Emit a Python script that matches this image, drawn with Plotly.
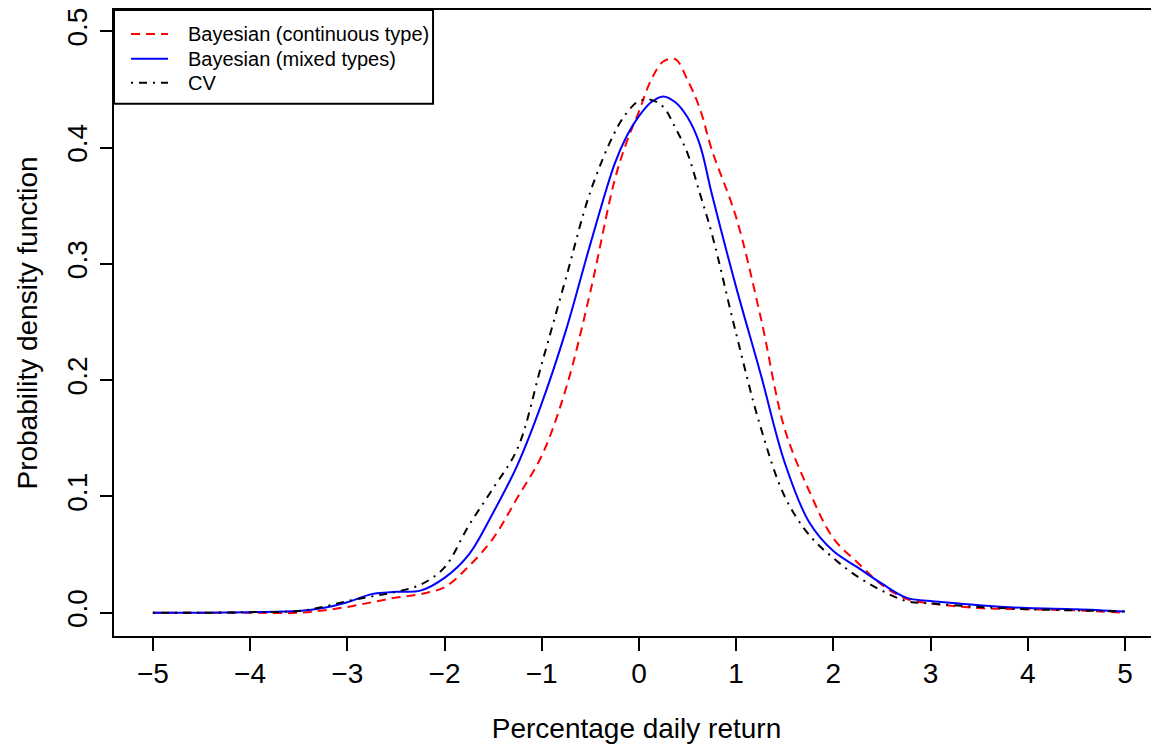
import plotly.graph_objects as go

# Data
x_grid = [-5, -4.5, -4, -3.5, -3.25, -3, -2.75, -2.5, -2.25, -2, -1.75, -1.5, -1.25, -1,
          -0.75, -0.5, -0.25, -0.125, 0, 0.125, 0.25, 0.375, 0.5, 0.625, 0.75, 1, 1.25,
          1.5, 1.75, 2, 2.25, 2.5, 2.75, 3, 3.5, 4, 4.5, 5]

bayes_continuous = [0.000, 0.000, 0.000, 0.000, 0.002, 0.005, 0.009, 0.013, 0.016, 0.022,
                    0.040, 0.064, 0.099, 0.135, 0.193, 0.276, 0.372, 0.405, 0.431, 0.458,
                    0.474, 0.476, 0.458, 0.434, 0.398, 0.340, 0.255,
                    0.158, 0.105, 0.064, 0.043, 0.024, 0.012, 0.008, 0.004, 0.003, 0.002, 0.000]

bayes_mixed = [0.000, 0.000, 0.0005, 0.0015, 0.004, 0.009, 0.016, 0.018, 0.019, 0.030,
               0.050, 0.086, 0.127, 0.180, 0.243, 0.317, 0.386, 0.410, 0.427, 0.439,
               0.444, 0.439, 0.426, 0.403, 0.360, 0.280, 0.206,
               0.129, 0.078, 0.053, 0.039, 0.025, 0.013, 0.010, 0.0065, 0.004, 0.003, 0.001]

cv = [0.000, 0.000, 0.0005, 0.0015, 0.005, 0.010, 0.014, 0.018, 0.024, 0.039,
      0.075, 0.107, 0.141, 0.214, 0.288, 0.362, 0.413, 0.430, 0.440, 0.441,
      0.435, 0.417, 0.395, 0.361, 0.326, 0.240, 0.160,
      0.100, 0.067, 0.047, 0.031, 0.019, 0.010, 0.008, 0.005, 0.003, 0.002, 0.001]

series_names = ["Bayesian (continuous type)", "Bayesian (mixed types)", "CV"]
series_colors = ["#FF0000", "#0000FF", "#000000"]
series_dash = ["9px,6px", "solid", "2px,6px,8px,6px"]

x_tick_vals = [-5, -4, -3, -2, -1, 0, 1, 2, 3, 4, 5]
x_tick_text = ["\u22125", "\u22124", "\u22123", "\u22122", "\u22121", "0", "1", "2", "3", "4", "5"]
y_tick_vals = [0.0, 0.1, 0.2, 0.3, 0.4, 0.5]
y_tick_text = ["0.0", "0.1", "0.2", "0.3", "0.4", "0.5"]

FONT = "Liberation Sans, Arial, Helvetica, sans-serif"
AX = 28

fig = go.Figure()
for name, yv, col, dash in zip(series_names, [bayes_continuous, bayes_mixed, cv], series_colors, series_dash):
    fig.add_trace(go.Scatter(x=x_grid, y=yv, mode="lines", name=name, showlegend=False,
                             line=dict(color=col, width=2, dash=dash, shape="spline", smoothing=1.0)))

# Legend drawn in the R style (box, line samples, labels)
legend_rows_y = [0.9618, 0.9220, 0.8838]
shapes = [dict(type="rect", xref="paper", yref="paper", x0=0, x1=0.3053, y0=0.8503, y1=1.0,
               line=dict(color="black", width=2), fillcolor="rgba(0,0,0,0)", layer="above")]
annotations = []
for name, col, dash, ry in zip(series_names, series_colors, series_dash, legend_rows_y):
    shapes.append(dict(type="line", xref="paper", yref="paper", x0=0.0163, x1=0.0517, y0=ry, y1=ry,
                       line=dict(color=col, width=2, dash=dash)))
    annotations.append(dict(xref="paper", yref="paper", x=0.0689, y=ry, xanchor="left", yanchor="middle",
                            text=name, showarrow=False, font=dict(size=20, family=FONT, color="black")))

fig.update_layout(
    width=1151, height=743,
    margin=dict(l=106, r=0, t=0, b=115),
    paper_bgcolor="white", plot_bgcolor="white",
    font=dict(family=FONT, color="black", size=AX),
    showlegend=False,
    shapes=shapes, annotations=annotations,
)

fig.update_xaxes(
    range=[-5.4, 5.35], tickvals=x_tick_vals, ticktext=x_tick_text,
    showgrid=False, zeroline=False, showline=True, mirror=True, linecolor="black", linewidth=2,
    ticks="outside", ticklen=13, tickwidth=2, tickcolor="black",
    tickfont=dict(size=AX), ticklabelstandoff=-2, ticklabeloverflow="allow",
    title=dict(text="Percentage daily return", font=dict(size=AX), standoff=31),
)
fig.update_yaxes(
    range=[-0.02, 0.5183], tickvals=y_tick_vals, ticktext=y_tick_text,
    showgrid=False, zeroline=False, showline=True, mirror=False, linecolor="black", linewidth=2,
    ticks="outside", ticklen=12, tickwidth=2, tickcolor="black",
    tickfont=dict(size=AX), tickangle=-90, ticklabelstandoff=2, ticklabeloverflow="allow",
    title=dict(text="Probability density function", font=dict(size=AX), standoff=16),
)

fig.write_html("out.html")
